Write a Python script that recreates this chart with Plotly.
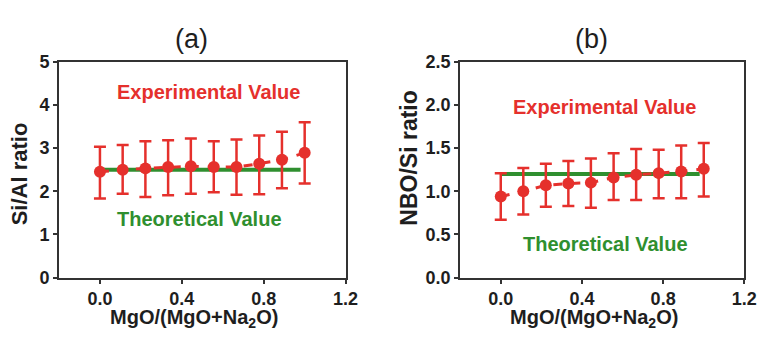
import plotly.graph_objects as go

# MgO/(MgO+Na2O) compositions
x_frac = [0.0, 0.111, 0.222, 0.333, 0.444, 0.556, 0.667, 0.778, 0.889, 1.0]

# (a) Si/Al ratio
si_al = [2.45, 2.50, 2.53, 2.56, 2.58, 2.56, 2.56, 2.64, 2.73, 2.89]
si_al_hi = [3.03, 3.07, 3.16, 3.18, 3.22, 3.16, 3.20, 3.29, 3.38, 3.60]
si_al_lo = [1.83, 1.94, 1.87, 1.91, 1.94, 1.98, 1.92, 1.93, 2.07, 2.18]
si_al_theory = 2.5

# (b) NBO/Si ratio
nbo_si = [0.94, 1.00, 1.07, 1.09, 1.10, 1.16, 1.19, 1.21, 1.23, 1.26]
nbo_si_hi = [1.21, 1.27, 1.32, 1.35, 1.38, 1.44, 1.49, 1.48, 1.53, 1.56]
nbo_si_lo = [0.67, 0.73, 0.82, 0.83, 0.81, 0.90, 0.90, 0.92, 0.92, 0.94]
nbo_si_theory = 1.2

theory_x = [0.0, 0.98]
x_ticks = [0.0, 0.4, 0.8, 1.2]
x_ticktext = ["0.0", "0.4", "0.8", "1.2"]
a_yticks = [0, 1, 2, 3, 4, 5]
b_yticks = [0.0, 0.5, 1.0, 1.5, 2.0, 2.5]
b_yticktext = ["0.0", "0.5", "1.0", "1.5", "2.0", "2.5"]

W, H = 777, 337
RED = "#e5302c"
GREEN = "#2f8f2f"
TXT = "#1e1e1e"
FONT = "Liberation Sans"


def px(xp):
    return xp / W


def py(yp):
    return 1 - yp / H


fig = go.Figure()


def add_panel(xa, ya, y, hi, lo, theory):
    fig.add_trace(go.Scatter(
        x=theory_x, y=[theory, theory], mode="lines",
        line=dict(color=GREEN, width=4), xaxis=xa, yaxis=ya,
        showlegend=False, hoverinfo="skip"))
    fig.add_trace(go.Scatter(
        x=x_frac, y=y, mode="lines+markers",
        line=dict(color=RED, width=3, dash="dash"),
        marker=dict(color=RED, size=12),
        error_y=dict(type="data", symmetric=False,
                     array=[h - v for h, v in zip(hi, y)],
                     arrayminus=[v - l for v, l in zip(y, lo)],
                     color=RED, thickness=2.5, width=6),
        xaxis=xa, yaxis=ya, showlegend=False))


add_panel("x", "y", si_al, si_al_hi, si_al_lo, si_al_theory)
add_panel("x2", "y2", nbo_si, nbo_si_hi, nbo_si_lo, nbo_si_theory)

tickfont = dict(family=FONT, size=18, color=TXT, weight="bold")
axis_common = dict(showline=True, linecolor="#333333", linewidth=2, mirror=True,
                   showgrid=False, zeroline=False, ticks="outside", ticklen=4,
                   tickwidth=1.5, tickcolor="#333333", tickfont=tickfont)

y_top, y_bot = 55, 284.5
fig.update_layout(
    width=W, height=H, margin=dict(l=0, r=0, t=0, b=0),
    paper_bgcolor="white", plot_bgcolor="white",
    xaxis=dict(domain=[px(60), px(351.5)], range=[-0.2, 1.2], ticklabelstandoff=0,
               tickvals=x_ticks, ticktext=x_ticktext, anchor="y", **axis_common),
    yaxis=dict(domain=[py(y_bot), py(y_top)], range=[0, 5],
               tickvals=a_yticks, anchor="x", **axis_common),
    xaxis2=dict(domain=[px(468), px(757)], range=[-0.2, 1.2], ticklabelstandoff=0,
                tickvals=x_ticks, ticktext=x_ticktext, anchor="y2", **axis_common),
    yaxis2=dict(domain=[py(y_bot), py(y_top)], range=[0, 2.5],
                tickvals=b_yticks, ticktext=b_yticktext, anchor="x2", **axis_common),
)


def label(text, xp, yp, size, color, bold=True, angle=0, yanchor="middle"):
    fig.add_annotation(
        text=text, x=px(xp), y=py(yp), xref="paper", yref="paper",
        showarrow=False, textangle=angle, xanchor="center", yanchor=yanchor,
        font=dict(family=FONT, size=size, color=color,
                  weight="bold" if bold else "normal"))


# panel titles
label("(a)", 195, 13, 27, TXT, bold=False, yanchor="top")
label("(b)", 602, 13, 27, TXT, bold=False, yanchor="top")

# axis titles
label("Si/Al ratio", 20, 174, 22, TXT, angle=-90)
label("NBO/Si ratio", 416, 158, 23, TXT, angle=-90)
xtitle = "MgO/(MgO+Na<sub>2</sub>O)"
label(xtitle, 197, 313, 20, TXT, yanchor="top")
label(xtitle, 604, 313, 20, TXT, yanchor="top")

# in-plot series labels
label("Experimental Value", 212, 87, 20, RED)
label("Theoretical Value", 203, 222, 20, GREEN)
label("Experimental Value", 615, 103, 20, RED)
label("Theoretical Value", 616, 249, 20, GREEN)

fig.write_html("out.html")
